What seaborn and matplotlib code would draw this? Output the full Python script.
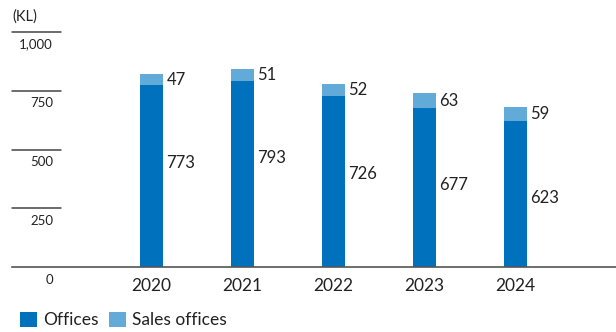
import matplotlib
matplotlib.use("Agg")
import matplotlib.pyplot as plt
import seaborn as sns
import pandas as pd
from matplotlib.patches import Patch

# Data
years = ["2020", "2021", "2022", "2023", "2024"]
offices = [773, 793, 726, 677, 623]
sales_offices = [47, 51, 52, 63, 59]
y_ticks = [0, 250, 500, 750, 1000]
y_tick_labels = ["0", "250", "500", "750", "1,000"]

dark = "#0071bc"
light = "#62aad7"

df = pd.DataFrame({"year": years, "offices": offices, "sales": sales_offices})
df["total"] = df["offices"] + df["sales"]

sns.set_style("white")
plt.rcParams["font.family"] = ["Lato", "DejaVu Sans"]

fig = plt.figure(figsize=(6.16, 3.32), dpi=100)
ax = fig.add_axes([12 / 616, 65 / 332, 604 / 616, 235 / 332])

sns.barplot(data=df, x="year", y="total", color=light, width=0.25,
            saturation=1, linewidth=0, ax=ax)
sns.barplot(data=df, x="year", y="offices", color=dark, width=0.25,
            saturation=1, linewidth=0, ax=ax)

ax.set_xlim(-1.533, 5.104)
ax.set_ylim(0, 1000)
ax.set_xlabel("")
ax.set_ylabel("")
ax.set_yticks([])
ax.tick_params(axis="x", length=0, pad=8, labelsize=12.5, labelcolor="#222222")

for s in ["top", "left", "right"]:
    ax.spines[s].set_visible(False)
ax.spines["bottom"].set_color("#555555")
ax.spines["bottom"].set_linewidth(1.2)

# short gridlines at left with labels underneath
for v, lab in zip(y_ticks, y_tick_labels):
    if v > 0:
        ax.axhline(v, xmin=0, xmax=49 / 604, color="#444444", lw=1.1,
                   clip_on=False)
    ax.annotate(lab, xy=(41 / 604, v), xycoords=("axes fraction", "data"),
                xytext=(0, -9), textcoords="offset points",
                ha="right", va="center", fontsize=9.5, color="#222222")

ax.annotate("(KL)", xy=(0, 1000), xycoords=("axes fraction", "data"),
            xytext=(0, 11), textcoords="offset points",
            ha="left", va="center", fontsize=10.5, color="#222222")

# value labels
for i, row in df.iterrows():
    ax.annotate(str(row["sales"]), xy=(i + 0.125, row["offices"] + row["sales"] / 2),
                xytext=(2.5, 0), textcoords="offset points",
                ha="left", va="center", fontsize=12, color="#222222")
    ax.annotate(str(row["offices"]), xy=(i + 0.125, row["offices"] - 330),
                xytext=(2.5, 0), textcoords="offset points",
                ha="left", va="center", fontsize=12, color="#222222")

handles = [Patch(facecolor=dark, edgecolor="none", label="Offices"),
           Patch(facecolor=light, edgecolor="none", label="Sales offices")]
fig.legend(handles=handles, loc="lower left", bbox_to_anchor=(4 / 616, -12 / 332),
           ncol=2, frameon=False, fontsize=12.5, handlelength=1.0,
           handleheight=1.0, handletextpad=0.35, columnspacing=0.6,
           labelcolor="#222222")

fig.savefig("out.png", dpi=100)
